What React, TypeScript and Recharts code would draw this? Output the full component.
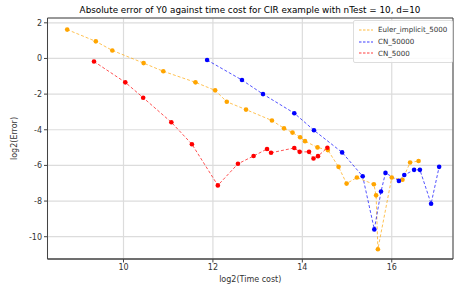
import React from 'react';
import { LineChart, Line, XAxis, YAxis, CartesianGrid, ReferenceArea } from 'recharts';

const eulerX = [8.74, 9.38, 9.75, 10.45, 10.89, 11.61, 12.05, 12.31, 12.74, 13.32, 13.59, 13.78, 13.95, 14.06, 14.34, 14.57, 14.81, 14.99, 15.22, 15.6, 15.65, 15.69, 16.0, 16.24, 16.41, 16.6];
const eulerY = [1.62, 0.96, 0.45, -0.26, -0.72, -1.34, -1.79, -2.43, -2.87, -3.48, -3.92, -4.16, -4.42, -4.64, -4.99, -5.14, -6.08, -7.02, -6.68, -7.06, -7.68, -10.7, -6.68, -6.8, -5.84, -5.75];

const cn50000X = [11.87, 12.65, 13.12, 13.82, 14.26, 14.89, 15.35, 15.61, 15.76, 15.86, 16.16, 16.28, 16.5, 16.63, 16.88, 17.06];
const cn50000Y = [-0.09, -1.21, -2.0, -3.07, -4.03, -5.27, -6.61, -9.59, -7.46, -6.42, -6.87, -6.54, -6.25, -6.25, -8.15, -6.08];

const cn5000X = [9.34, 10.04, 10.44, 11.07, 11.53, 12.11, 12.56, 12.91, 13.21, 13.3, 13.82, 13.94, 14.15, 14.25, 14.35, 14.56];
const cn5000Y = [-0.17, -1.34, -2.2, -3.58, -4.81, -7.12, -5.91, -5.47, -5.08, -5.29, -5.02, -5.24, -5.24, -5.61, -5.48, -5.01];

const xTicks = [10, 12, 14, 16];
const yTicks = [-10, -8, -6, -4, -2, 0, 2];

const seriesNames = ['Euler_implicit_5000', 'CN_50000', 'CN_5000'];
const seriesColors = ['#FFA500', '#0000FF', '#FF0000'];

const toData = (xs: number[], ys: number[]) => xs.map((x, i) => ({ x, y: ys[i] }));

const series = [
  toData(eulerX, eulerY),
  toData(cn50000X, cn50000Y),
  toData(cn5000X, cn5000Y),
];

const X_DOMAIN: [number, number] = [8.3, 17.37];
const Y_DOMAIN: [number, number] = [-11.25, 2.27];

const font = 'DejaVu Sans, sans-serif';

export default function App() {
  return (
    <div style={{ position: 'absolute', left: 0, top: 0, width: 454, height: 284, background: '#fff', fontFamily: font }}>
      <div style={{ position: 'absolute', left: 47, width: 406, top: 5, textAlign: 'center', fontSize: 8.8, color: '#000', whiteSpace: 'nowrap' }}>
        Absolute error of Y0 against time cost for CIR example with nTest = 10, d=10
      </div>
      <LineChart width={454} height={284} margin={{ top: 18, right: 1, bottom: 0, left: 0 }}>
        <CartesianGrid stroke="#dcdcdc" strokeWidth={1.2} />
        <XAxis
          type="number"
          dataKey="x"
          domain={X_DOMAIN}
          ticks={xTicks}
          allowDataOverflow
          height={25}
          tickSize={3.5}
          tickMargin={2}
          stroke="#444"
          tick={{ fontSize: 8, fill: '#333', fontFamily: font }}
          label={{ value: 'log2(Time cost)', position: 'insideBottom', offset: 2, fontSize: 8, fill: '#333', fontFamily: font }}
        />
        <YAxis
          type="number"
          dataKey="y"
          domain={Y_DOMAIN}
          ticks={yTicks}
          allowDataOverflow
          width={47.5}
          tickSize={3.5}
          tickMargin={2}
          stroke="#444"
          tick={{ fontSize: 8, fill: '#333', fontFamily: font }}
          label={{ value: 'log2(Error)', angle: -90, position: 'insideLeft', offset: 14, fontSize: 8, fill: '#333', fontFamily: font, style: { textAnchor: 'middle' } }}
        />
        <ReferenceArea x1={X_DOMAIN[0]} x2={X_DOMAIN[1]} y1={Y_DOMAIN[0]} y2={Y_DOMAIN[1]} fill="none" stroke="#444" strokeWidth={1} ifOverflow="visible" />
        {series.map((d, i) => (
          <Line
            key={seriesNames[i]}
            data={d}
            dataKey="y"
            name={seriesNames[i]}
            type="linear"
            stroke={seriesColors[i]}
            strokeWidth={0.8}
            strokeOpacity={0.85}
            strokeDasharray="3 2"
            dot={{ r: 2.3, fill: seriesColors[i], stroke: 'none', strokeDasharray: '' }}
            activeDot={false}
            isAnimationActive={false}
          />
        ))}
      </LineChart>
      <div style={{ position: 'absolute', left: 353, top: 20, width: 100, height: 43, background: 'rgba(255,255,255,0.85)', border: '1px solid #ddd', borderRadius: 2, boxSizing: 'border-box', paddingTop: 3 }}>
        {seriesNames.map((n, i) => (
          <div key={n} style={{ display: 'flex', alignItems: 'center', height: 11.7, fontSize: 7.1, color: '#333', whiteSpace: 'nowrap' }}>
            <svg width={14} height={8} style={{ marginLeft: 5, marginRight: 5, flexShrink: 0 }}>
              <line x1={0} y1={4} x2={14} y2={4} stroke={seriesColors[i]} strokeWidth={0.9} strokeDasharray="2.5 1.5" strokeOpacity={0.85} />
            </svg>
            <span>{n}</span>
          </div>
        ))}
      </div>
    </div>
  );
}
